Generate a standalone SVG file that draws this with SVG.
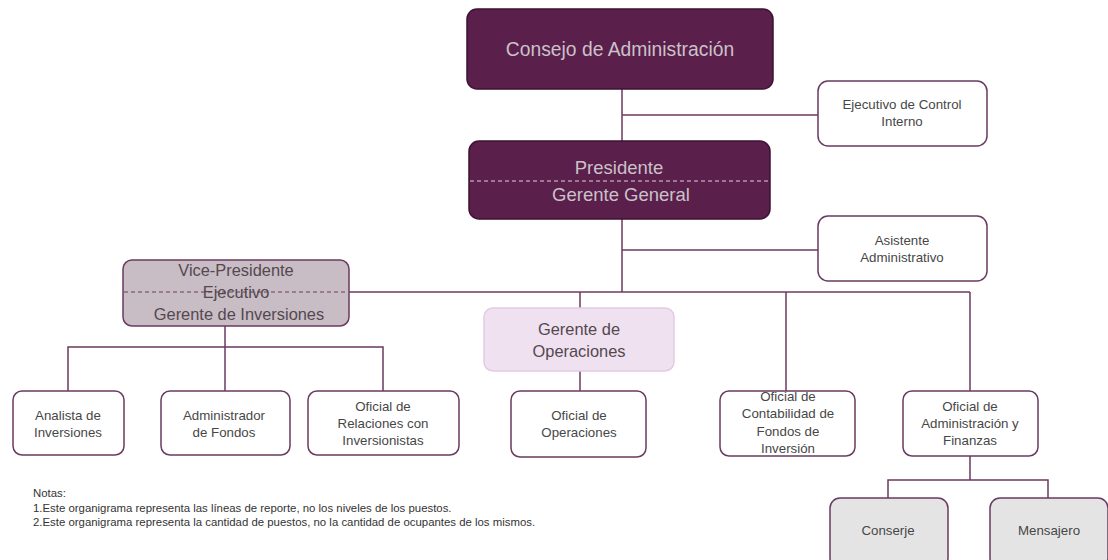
<svg xmlns="http://www.w3.org/2000/svg" width="1108" height="560" viewBox="0 0 1108 560">
<style>
text{font-family:"Liberation Sans",Arial,sans-serif;text-anchor:middle;fill:#474747}
.dark rect{fill:#5a1f4b;stroke:#3d1233;stroke-width:1.5}
.dark text{fill:#cbc2c9;font-size:18.5px}
.box rect{fill:#fff;stroke:#6a3a60;stroke-width:1.5}
.box text{font-size:13.3px}
.grey rect{fill:#e5e4e5;stroke:#6a3a60;stroke-width:1.5}
.grey text{font-size:13.3px}
.mid{font-size:16.4px;fill:#54484f}
.conn path{stroke:#6a3a60;stroke-width:1.5;fill:none}
.dash{stroke:#e0d0dc;stroke-width:1;stroke-dasharray:4 3}
.note{font-size:11.4px;text-anchor:start;fill:#333}
</style>
<g class="conn">
<path d="M622 89V292"/>
<path d="M622 115H818"/>
<path d="M622 250H818"/>
<path d="M349 292H970"/>
<path d="M580 292V308"/>
<path d="M786 292V391"/>
<path d="M970 292V391"/>
<path d="M225 326V391"/>
<path d="M68 391V347H383V391"/>
<path d="M580 371V391"/>
<path d="M970 456V480"/>
<path d="M888 498V480H1048V498"/>
</g>
<g id="consejo" class="dark">
<rect x="467" y="9" width="306" height="80" rx="10"/>
<text x="620" y="56" style="font-size:19.3px">Consejo de Administración</text>
</g>
<g id="control" class="box">
<rect x="818" y="81" width="169" height="65" rx="10"/>
<text x="902" y="109">Ejecutivo de Control</text>
<text x="902" y="126">Interno</text>
</g>
<g id="presidente" class="dark">
<rect x="469" y="141" width="301" height="78" rx="10"/>
<line x1="470" y1="181" x2="769" y2="181" class="dash"/>
<text x="619" y="174">Presidente</text>
<text x="621" y="201">Gerente General</text>
</g>
<g id="asistente" class="box">
<rect x="818" y="216" width="169" height="65" rx="10"/>
<text x="902" y="245">Asistente</text>
<text x="902" y="262">Administrativo</text>
</g>
<g id="vp">
<rect x="123" y="260" width="226" height="66" rx="9" fill="#c8bcc5" stroke="#6a3a60" stroke-width="1.5"/>
<line x1="124" y1="292" x2="348" y2="292" stroke="#6a3a60" stroke-width="1" stroke-dasharray="4 3"/>
<text class="mid" x="236" y="276">Vice-Presidente</text>
<text class="mid" x="236" y="298">Ejecutivo</text>
<text class="mid" x="239" y="320">Gerente de Inversiones</text>
</g>
<g id="gop">
<rect x="484" y="308" width="190" height="63" rx="9" fill="#efe1ef" stroke="#e3cce3" stroke-width="1.5"/>
<text class="mid" x="579" y="335">Gerente  de</text>
<text class="mid" x="579" y="357">Operaciones</text>
</g>
<g id="analista" class="box">
<rect x="13" y="391" width="111" height="64" rx="9"/>
<text x="68" y="420">Analista de</text>
<text x="68" y="437">Inversiones</text>
</g>
<g id="administrador" class="box">
<rect x="161" y="391" width="129" height="64" rx="9"/>
<text x="224" y="420">Administrador</text>
<text x="224" y="437">de Fondos</text>
</g>
<g id="relaciones" class="box">
<rect x="308" y="391" width="151" height="64" rx="9"/>
<text x="383" y="411">Oficial de</text>
<text x="383" y="428">Relaciones con</text>
<text x="383" y="445">Inversionistas</text>
</g>
<g id="oficialop" class="box">
<rect x="511" y="391" width="135" height="66" rx="9"/>
<text x="579" y="420">Oficial de</text>
<text x="579" y="437">Operaciones</text>
</g>
<g id="contabilidad" class="box">
<rect x="720" y="391" width="135" height="65" rx="9"/>
<text x="788" y="401">Oficial de</text>
<text x="788" y="418">Contabilidad de</text>
<text x="788" y="436">Fondos de</text>
<text x="788" y="453">Inversión</text>
</g>
<g id="finanzas" class="box">
<rect x="903" y="391" width="135" height="65" rx="9"/>
<text x="970" y="411">Oficial de</text>
<text x="970" y="428">Administración y</text>
<text x="970" y="445">Finanzas</text>
</g>
<g id="conserje" class="grey">
<rect x="830" y="498" width="118" height="70" rx="10"/>
<text x="888" y="535">Conserje</text>
</g>
<g id="mensajero" class="grey">
<rect x="990" y="498" width="118" height="70" rx="10"/>
<text x="1049" y="535">Mensajero</text>
</g>
<g id="notas">
<text class="note" x="33" y="497">Notas:</text>
<text class="note" x="33" y="512">1.Este organigrama  representa las líneas de reporte, no los niveles de los puestos.</text>
<text class="note" x="33" y="526">2.Este organigrama  representa la cantidad de puestos, no la cantidad de ocupantes de los mismos.</text>
</g>
</svg>
